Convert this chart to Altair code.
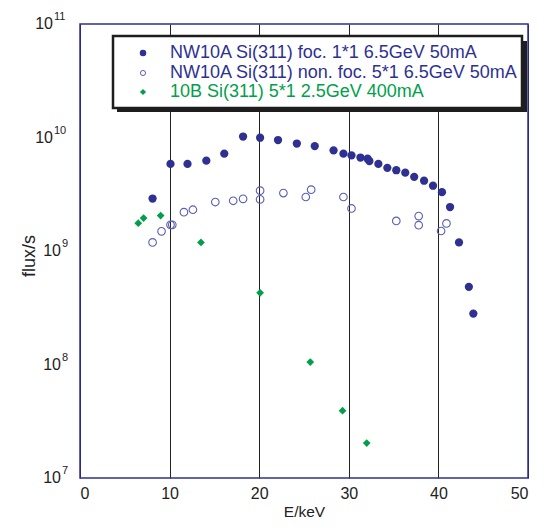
import altair as alt
import pandas as pd

# ---- data ----
foc_E = [8.1, 10.1, 12.0, 14.1, 16.1, 18.2, 20.1, 22.1, 24.2, 26.2, 28.3, 29.4, 30.3,
         31.3, 32.1, 32.3, 33.3, 34.3, 35.3, 36.3, 37.3, 38.4, 39.4, 40.4, 41.3, 42.3,
         43.4, 43.9]
foc_F = [2.9e9, 5.85e9, 5.85e9, 6.25e9, 7.2e9, 1.02e10, 9.95e9, 9.5e9, 8.85e9, 8.4e9,
         7.7e9, 7.2e9, 6.97e9, 6.66e9, 6.5e9, 6.2e9, 5.85e9, 5.4e9, 5.15e9, 4.9e9,
         4.5e9, 4.16e9, 3.76e9, 3.3e9, 2.44e9, 1.19e9, 4.83e8, 2.81e8]

nonfoc_E = [8.1, 9.1, 10.1, 10.3, 11.6, 12.6, 15.1, 17.1, 18.2, 20.1, 20.1, 22.7, 25.2,
            25.8, 29.4, 30.3, 35.3, 37.8, 37.8, 40.3, 40.9]
nonfoc_F = [1.19e9, 1.49e9, 1.70e9, 1.70e9, 2.2e9, 2.31e9, 2.7e9, 2.77e9, 2.88e9, 3.4e9,
            2.85e9, 3.24e9, 2.99e9, 3.47e9, 2.99e9, 2.37e9, 1.84e9, 2.03e9, 1.69e9,
            1.50e9, 1.75e9]

b10_E = [6.5, 7.1, 9.0, 13.5, 20.1, 25.7, 29.3, 32.0]
b10_F = [1.76e9, 1.95e9, 2.05e9, 1.19e9, 4.28e8, 1.05e8, 3.92e7, 2.03e7]

series_labels = [
    "NW10A Si(311) foc. 1*1 6.5GeV 50mA",
    "NW10A Si(311) non. foc. 5*1 6.5GeV 50mA",
    "10B Si(311) 5*1 2.5GeV 400mA",
]
x_ticks = [0, 10, 20, 30, 40, 50]
decades = [7, 8, 9, 10, 11]
y_title = ["flux/s"]

NAVY = "#2e3192"
OPEN = "#5c60b4"
GREEN = "#00a04a"
FONT = "Liberation Sans"

W, H = 448, 454

foc = pd.DataFrame({"E": foc_E, "F": foc_F})
nonfoc = pd.DataFrame({"E": nonfoc_E, "F": nonfoc_F})
b10 = pd.DataFrame({"E": b10_E, "F": b10_F})
dec = pd.DataFrame({"exp": [str(d) for d in decades], "val": [10.0 ** d for d in decades],
                    "n": [len(str(d)) for d in decades], "base": ["10"] * len(decades)})

xs = alt.Scale(domain=[0, 50], nice=False, zero=False)
ys = alt.Scale(type="log", domain=[1e7, 1e11], nice=False)

x_enc = alt.X("E:Q", scale=xs, axis=alt.Axis(
    values=x_ticks, title="E/keV", grid=True, gridColor="#222", gridWidth=1,
    ticks=False, domain=False, labelFont=FONT, labelFontSize=16, labelColor="#222",
    labelPadding=7, titleFont=FONT, titleFontSize=15.5, titleFontWeight="normal",
    titleColor="#222", titlePadding=3))
y_enc = alt.Y("F:Q", scale=ys, axis=alt.Axis(
    values=[10.0 ** d for d in decades], title=None, grid=True, gridColor="#222",
    gridWidth=1, ticks=False, domain=False, labels=False))

l_foc = alt.Chart(foc).mark_point(shape="circle", filled=True, size=68, color=NAVY,
                                  opacity=1).encode(x=x_enc, y=y_enc)
l_non = alt.Chart(nonfoc).mark_point(shape="circle", filled=False, size=58, color=OPEN,
                                     strokeWidth=1.1, opacity=1).encode(x=x_enc, y=y_enc)
l_b10 = alt.Chart(b10).mark_point(shape="diamond", filled=True, size=60, color=GREEN,
                                  opacity=1).encode(x=x_enc, y=y_enc)

ydec = alt.Y("val:Q", scale=ys, axis=None)
base_txt = dict(font=FONT, color="#222")
lab_base2 = alt.Chart(dec).transform_filter("datum.n == 2").mark_text(
    align="right", baseline="middle", fontSize=16, **base_txt).encode(
    y=ydec, x=alt.value(-27), text="base:N")
lab_exp2 = alt.Chart(dec).transform_filter("datum.n == 2").mark_text(
    align="left", baseline="alphabetic", fontSize=11, dy=-4, **base_txt).encode(
    y=ydec, x=alt.value(-26), text="exp:N")
lab_base1 = alt.Chart(dec).transform_filter("datum.n == 1").mark_text(
    align="right", baseline="middle", fontSize=16, **base_txt).encode(
    y=ydec, x=alt.value(-19), text="base:N")
lab_exp1 = alt.Chart(dec).transform_filter("datum.n == 1").mark_text(
    align="left", baseline="alphabetic", fontSize=11, dy=-4, **base_txt).encode(
    y=ydec, x=alt.value(-18), text="exp:N")

ytitle = alt.Chart(pd.DataFrame({"t": y_title})).mark_text(
    angle=270, align="center", baseline="middle", fontSize=18, **base_txt).encode(
    x=alt.value(-50), y=alt.value(232), text="t:N")

# ---- legend box ----
leg = pd.DataFrame({"label": series_labels})
shadow = alt.Chart(leg.head(1)).mark_rect(color="#1e1e1e").encode(
    x=alt.value(37), x2=alt.value(447), y=alt.value(17), y2=alt.value(88))
box = alt.Chart(leg.head(1)).mark_rect(fill="white", stroke="#1e1e1e", strokeWidth=2.5).encode(
    x=alt.value(33), x2=alt.value(442), y=alt.value(12), y2=alt.value(84))

leg_rows = []
row_y = [29, 49, 68]
row_col = [NAVY, NAVY, GREEN]
for i, lab in enumerate(series_labels):
    d = leg.iloc[[i]]
    leg_rows.append(alt.Chart(d).mark_text(align="left", baseline="middle", font=FONT,
                                           fontSize=18, color=row_col[i]).encode(
        x=alt.value(90), y=alt.value(row_y[i]), text="label:N"))
leg_rows.append(alt.Chart(leg.iloc[[0]]).mark_point(shape="circle", filled=True, size=42,
                                                    color=NAVY, opacity=1).encode(
    x=alt.value(63), y=alt.value(row_y[0])))
leg_rows.append(alt.Chart(leg.iloc[[1]]).mark_point(shape="circle", filled=False, size=26,
                                                    color=OPEN, strokeWidth=1, opacity=1).encode(
    x=alt.value(63), y=alt.value(row_y[1])))
leg_rows.append(alt.Chart(leg.iloc[[2]]).mark_point(shape="diamond", filled=True, size=38,
                                                    color=GREEN, opacity=1).encode(
    x=alt.value(63), y=alt.value(row_y[2])))

frame = alt.Chart(leg.head(1)).mark_rect(fill=None, stroke=NAVY, strokeWidth=1.5).encode(
    x=alt.value(0), x2=alt.value(W), y=alt.value(0), y2=alt.value(H))

chart = alt.layer(
    l_non, l_foc, l_b10, lab_base2, lab_exp2, lab_base1, lab_exp1, ytitle,
    shadow, box, *leg_rows, frame
).properties(
    width=W, height=H,
    autosize=alt.AutoSizeParams(type="none"),
    padding={"left": 72, "top": 16, "right": 8, "bottom": 44},
    background="white",
).configure_view(
    stroke=None
)

chart.save("out.html", embed_options={"renderer": "svg", "actions": False})
